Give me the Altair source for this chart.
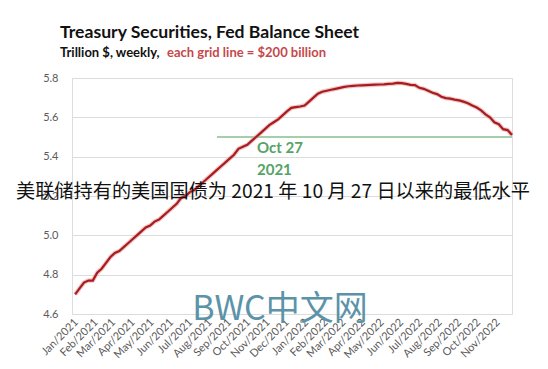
import altair as alt
import pandas as pd

# ---- data (trillion $, weekly, Wednesdays) ----
start_date = "2021-01-06"
values_2021 = [4.70, 4.73, 4.76, 4.77, 4.77, 4.81, 4.83, 4.86, 4.89, 4.91, 4.92, 4.94, 4.96,
               4.98, 5.00, 5.02, 5.04, 5.05, 5.07, 5.08, 5.10, 5.12, 5.14, 5.16, 5.19, 5.20,
               5.22, 5.23, 5.25, 5.27, 5.29, 5.31, 5.33, 5.35, 5.37, 5.39, 5.41, 5.44, 5.45,
               5.46, 5.48, 5.50, 5.52, 5.54, 5.56, 5.575, 5.59, 5.61, 5.63, 5.648, 5.652, 5.655]
values_2022 = [5.66, 5.68, 5.70, 5.72, 5.73, 5.735, 5.74, 5.745, 5.75, 5.755, 5.758, 5.76, 5.762,
               5.763, 5.764, 5.765, 5.766, 5.767, 5.768, 5.77, 5.771, 5.775, 5.774, 5.77, 5.765,
               5.764, 5.75, 5.745, 5.735, 5.725, 5.718, 5.705, 5.698, 5.695, 5.69, 5.686, 5.68,
               5.672, 5.66, 5.65, 5.635, 5.615, 5.60, 5.575, 5.565, 5.54, 5.535, 5.51]
values = values_2021 + values_2022
dates = [d.strftime("%Y-%m-%d") for d in pd.date_range(start_date, periods=len(values), freq="7D")]

x_domain = ["2021-01-01", dates[-1]]
month_ticks = [(2021, m) for m in range(1, 13)] + [(2022, m) for m in range(1, 12)]
y_ticks = [4.6, 4.8, 5.0, 5.2, 5.4, 5.6, 5.8]

ref_value = 5.5
ref_start = "2021-08-19"

title_text = "Treasury Securities, Fed Balance Sheet"
sub_black = "Trillion $, weekly,"
sub_red = "each grid line = $200 billion"
ann_lines = ["Oct 27", "2021"]
overlay_text = "美联储持有的美国国债为 2021 年 10 月 27 日以来的最低水平"
watermark = "BWC中文网"

df = pd.DataFrame({"date": dates, "value": values})
ref_df = pd.DataFrame({"start": [ref_start], "end": [dates[-1]], "value": [ref_value]})
one = pd.DataFrame({"k": [0]})

x_scale = alt.Scale(type="utc", domain=x_domain, nice=False)
y_scale = alt.Scale(domain=[4.6, 5.8], nice=False, zero=False)

x_axis = alt.Axis(
    values=[alt.DateTime(year=y, month=m, date=1, utc=True) for y, m in month_ticks],
    format="%b/%Y", labelAngle=-45, labelAlign="right", labelBaseline="top",
    labelPadding=2, labelFont="Lato", labelFontSize=11, labelColor="#5a5a5a",
    domain=False, ticks=False, grid=False, title=None, labelOverlap=False,
    labelBound=False, labelFlush=False,
)
y_axis = alt.Axis(
    values=y_ticks, format=".1f", labelFont="Lato", labelFontSize=11, labelColor="#5a5a5a",
    labelPadding=14, domain=False, ticks=False, grid=True, gridColor="#dcdcdc",
    gridWidth=1, title=None, labelOverlap=False,
)

X = alt.X("date:T", scale=x_scale, axis=x_axis)
Y = alt.Y("value:Q", scale=y_scale, axis=y_axis)

glow = alt.Chart(df).mark_line(color="#e6a3a3", strokeWidth=4.5, opacity=0.6).encode(x=X, y=Y)
line = alt.Chart(df).mark_line(color="#a81c1f", strokeWidth=2.2).encode(x=X, y=Y)
rule = alt.Chart(ref_df).mark_rule(color="#4f9e5f", strokeWidth=1.2).encode(
    x=alt.X("start:T", scale=x_scale, axis=x_axis),
    x2="end:T",
    y=alt.Y("value:Q", scale=y_scale, axis=y_axis),
)


def txt(text, x, y, size, color, weight="normal", font="Lato", align="left"):
    return alt.Chart(one).mark_text(
        text=text, align=align, baseline="middle", fontSize=size, color=color,
        fontWeight=weight, font=font,
    ).encode(x=alt.value(x), y=alt.value(y))


layers = [
    rule, glow, line,
    txt(title_text, -12, -45, 17.6, "#111111", "bold"),
    txt(sub_black, -12, -25, 13, "#111111", "bold"),
    txt(sub_red, 95, -25, 13, "#c6474b", "bold"),
    txt(ann_lines[0], 185, 70, 15, "#55a365", "bold"),
    txt(ann_lines[1], 185, 92, 15, "#55a365", "bold"),
    txt(watermark, 208, 232, 34, "#5b93a9", "normal", "Noto Sans CJK SC", "center"),
    txt(overlay_text, -56, 114, 19.2, "#111111", "normal", "Noto Sans CJK SC"),
]

chart = alt.layer(*layers).properties(
    width=440, height=236,
    autosize=alt.AutoSizeParams(type="none"),
    padding={"left": 64, "top": 70, "right": 28, "bottom": 47},
).configure_view(stroke=None).configure_axis(labelOverlap=False).configure(background="white")

chart.save("out.html", embed_options={"renderer": "svg", "actions": False})
